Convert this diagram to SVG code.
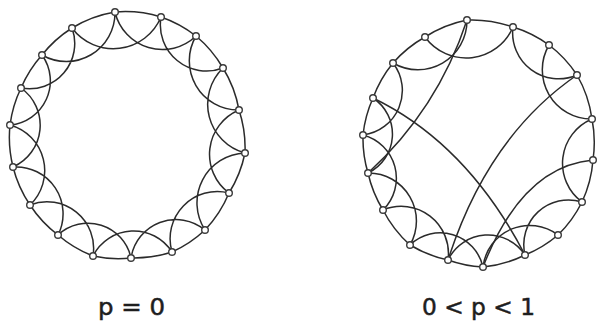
<svg xmlns="http://www.w3.org/2000/svg" width="597" height="327" viewBox="0 0 597 327">
<style>
.e{fill:none;stroke:#2b2b2b;stroke-width:1.5}
.n{fill:#fff;stroke:#3a3a3a;stroke-width:1.4}
.t{font-family:"DejaVu Sans",sans-serif;font-size:23px;fill:#1e1e1e;stroke:#1e1e1e;stroke-width:0.5}
</style>
<rect width="597" height="327" fill="#fff"/>
<g id="connectors">
<g id="left-edges">
<path class="e" d="M115,12A121,121 0 0 1 161,17M161,17A121,121 0 0 1 196,36M196,36A121,121 0 0 1 223,68M223,68A121,121 0 0 1 239,110M239,110A121,121 0 0 1 245,153M245,153A121,121 0 0 1 229,193M229,193A121,121 0 0 1 205,230M205,230A121,121 0 0 1 172,252M172,252A121,121 0 0 1 131,258M131,258A121,121 0 0 1 93,256M93,256A121,121 0 0 1 58,235M58,235A121,121 0 0 1 30,205M30,205A121,121 0 0 1 13,167M13,167A121,121 0 0 1 10,125M10,125A121,121 0 0 1 21,88M21,88A121,121 0 0 1 42,55M42,55A121,121 0 0 1 72,28M72,28A121,121 0 0 1 115,12"/>
<path class="e" d="M115,12A48.6,48.6 0 0 0 196,36M161,17A46.2,46.2 0 0 0 223,68M196,36A49.2,49.2 0 0 0 239,110M223,68A50.5,50.5 0 0 0 245,153M239,110A48.1,48.1 0 0 0 229,193M245,153A49.9,49.9 0 0 0 205,230M229,193A47.2,47.2 0 0 0 172,252M205,230A45.5,45.5 0 0 0 131,258M172,252A45.5,45.5 0 0 0 93,256M131,258A44,44 0 0 0 58,235M93,256A46.6,46.6 0 0 0 30,205M58,235A46.9,46.9 0 0 0 13,167M30,205A47.4,47.4 0 0 0 10,125M13,167A45.7,45.7 0 0 0 21,88M10,125A44.3,44.3 0 0 0 42,55M21,88A45.3,45.3 0 0 0 72,28M42,55A48.7,48.7 0 0 0 115,12M72,28A51.6,51.6 0 0 0 161,17"/>
</g>
<g id="right-edges">
<path class="e" d="M467,20A121,121 0 0 1 513,27M513,27A121,121 0 0 1 549,45M549,45A121,121 0 0 1 577,75M577,75A121,121 0 0 1 592,119M592,119A121,121 0 0 1 593,160M593,160A121,121 0 0 1 582,202M582,202A121,121 0 0 1 558,235M558,235A121,121 0 0 1 525,255M525,255A121,121 0 0 1 483,267M483,267A121,121 0 0 1 448,260M448,260A121,121 0 0 1 410,245M410,245A121,121 0 0 1 383,210M383,210A121,121 0 0 1 368,173M368,173A121,121 0 0 1 363,135M363,135A121,121 0 0 1 373,98M373,98A121,121 0 0 1 393,63M393,63A121,121 0 0 1 425,37M425,37A121,121 0 0 1 467,20"/>
<path class="e" d="M513,27A46,46 0 0 0 577,75M549,45A49.2,49.2 0 0 0 592,119M592,119A48.1,48.1 0 0 0 582,202M582,202A44.7,44.7 0 0 0 525,255M558,235A46.9,46.9 0 0 0 483,267M525,255A44.4,44.4 0 0 0 448,260M483,267A43.8,43.8 0 0 0 410,245M448,260A47.2,47.2 0 0 0 383,210M410,245A48,48 0 0 0 368,173M383,210A44.6,44.6 0 0 0 363,135M368,173A43.2,43.2 0 0 0 373,98M363,135A44.9,44.9 0 0 0 393,63M393,63A49.2,49.2 0 0 0 467,20M425,37A50.9,50.9 0 0 0 513,27"/>
<path class="e" d="M373,98Q467,143.5 525,255M467,20Q437.7,109.5 368,173M577,75Q487.5,136.5 448,260M593,160Q522,166.5 483,267"/>
</g>
</g>
<g id="left-nodes">
<circle id="L0" class="n" cx="115" cy="12" r="3.3"/><circle id="L1" class="n" cx="161" cy="17" r="3.3"/><circle id="L2" class="n" cx="196" cy="36" r="3.3"/><circle id="L3" class="n" cx="223" cy="68" r="3.3"/><circle id="L4" class="n" cx="239" cy="110" r="3.3"/><circle id="L5" class="n" cx="245" cy="153" r="3.3"/><circle id="L6" class="n" cx="229" cy="193" r="3.3"/><circle id="L7" class="n" cx="205" cy="230" r="3.3"/><circle id="L8" class="n" cx="172" cy="252" r="3.3"/><circle id="L9" class="n" cx="131" cy="258" r="3.3"/><circle id="L10" class="n" cx="93" cy="256" r="3.3"/><circle id="L11" class="n" cx="58" cy="235" r="3.3"/><circle id="L12" class="n" cx="30" cy="205" r="3.3"/><circle id="L13" class="n" cx="13" cy="167" r="3.3"/><circle id="L14" class="n" cx="10" cy="125" r="3.3"/><circle id="L15" class="n" cx="21" cy="88" r="3.3"/><circle id="L16" class="n" cx="42" cy="55" r="3.3"/><circle id="L17" class="n" cx="72" cy="28" r="3.3"/>
</g>
<g id="right-nodes">
<circle id="R0" class="n" cx="467" cy="20" r="3.3"/><circle id="R1" class="n" cx="513" cy="27" r="3.3"/><circle id="R2" class="n" cx="549" cy="45" r="3.3"/><circle id="R3" class="n" cx="577" cy="75" r="3.3"/><circle id="R4" class="n" cx="592" cy="119" r="3.3"/><circle id="R5" class="n" cx="593" cy="160" r="3.3"/><circle id="R6" class="n" cx="582" cy="202" r="3.3"/><circle id="R7" class="n" cx="558" cy="235" r="3.3"/><circle id="R8" class="n" cx="525" cy="255" r="3.3"/><circle id="R9" class="n" cx="483" cy="267" r="3.3"/><circle id="R10" class="n" cx="448" cy="260" r="3.3"/><circle id="R11" class="n" cx="410" cy="245" r="3.3"/><circle id="R12" class="n" cx="383" cy="210" r="3.3"/><circle id="R13" class="n" cx="368" cy="173" r="3.3"/><circle id="R14" class="n" cx="363" cy="135" r="3.3"/><circle id="R15" class="n" cx="373" cy="98" r="3.3"/><circle id="R16" class="n" cx="393" cy="63" r="3.3"/><circle id="R17" class="n" cx="425" cy="37" r="3.3"/>
</g>
<g id="labels">
<text class="t" x="98" y="315" textLength="67" lengthAdjust="spacingAndGlyphs">p = 0</text>
<text class="t" x="422" y="315" textLength="113" lengthAdjust="spacingAndGlyphs">0 &lt; p &lt; 1</text>
</g>
</svg>
